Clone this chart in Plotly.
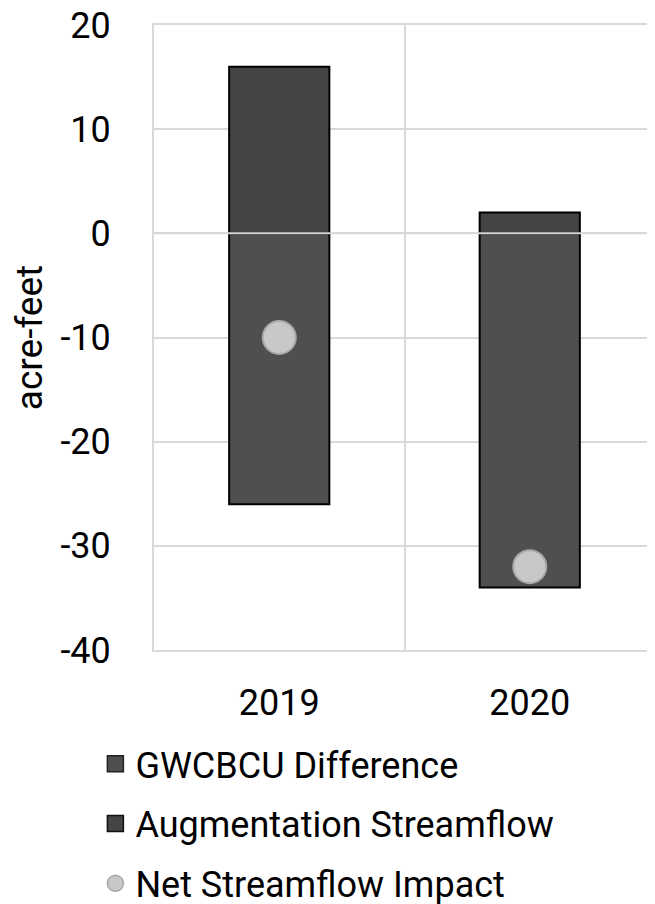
import plotly.graph_objects as go

years = ["2019", "2020"]
gwcbcu_diff = [-26, -34]
aug_streamflow = [16, 2]
net_impact = [-10, -32]

y_ticks = [20, 10, 0, -10, -20, -30, -40]
y_tick_labels = ["20", "10", "0", "-10", "-20", "-30", "-40"]

FONT = "Roboto"
C_GW = "#4f4f4f"
C_AUG = "#444444"
C_NET = "#c8c8c8"
C_NET_LINE = "#a9a9a9"
GRID = "#d9d9d9"

fig = go.Figure()

fig.add_trace(go.Bar(x=years, y=gwcbcu_diff, name="GWCBCU Difference",
                     marker=dict(color=C_GW, line=dict(color="#000000", width=2)),
                     width=0.4, showlegend=False))
fig.add_trace(go.Bar(x=years, y=aug_streamflow, name="Augmentation Streamflow",
                     marker=dict(color=C_AUG, line=dict(color="#000000", width=2)),
                     width=0.4, showlegend=False))
fig.add_trace(go.Scatter(x=years, y=net_impact, mode="markers", name="Net Streamflow Impact",
                         marker=dict(color=C_NET, size=33, line=dict(color=C_NET_LINE, width=2)),
                         showlegend=False))

# legend entries
fig.add_trace(go.Scatter(x=[None], y=[None], mode="markers", name="GWCBCU Difference",
                         legendgroup="a",
                         marker=dict(symbol="square", color=C_GW, size=22,
                                     line=dict(color="#222222", width=1.5))))
fig.add_trace(go.Scatter(x=[None], y=[None], mode="markers", name="Augmentation Streamflow",
                         legendgroup="b",
                         marker=dict(symbol="square", color=C_AUG, size=22,
                                     line=dict(color="#111111", width=1.5))))
fig.add_trace(go.Scatter(x=[None], y=[None], mode="markers", name="Net Streamflow Impact",
                         legendgroup="c",
                         marker=dict(symbol="circle", color=C_NET, size=23,
                                     line=dict(color=C_NET_LINE, width=1.5))))

fig.add_shape(type="line", xref="paper", x0=0, x1=1, yref="y", y0=0, y1=0,
              line=dict(color=GRID, width=2), layer="above")

fig.update_layout(
    width=647, height=896,
    margin=dict(l=146, r=0, t=17, b=254, pad=0, autoexpand=False),
    paper_bgcolor="white", plot_bgcolor="white",
    barmode="relative",
    font=dict(family=FONT, color="#000000"),
    legend=dict(orientation="v", x=-0.117, xanchor="left", y=-0.134, yanchor="top",
                font=dict(size=36, family=FONT), tracegroupgap=10,
                traceorder="grouped", bgcolor="rgba(0,0,0,0)",
                itemsizing="trace"),
    xaxis=dict(type="category", tickson="boundaries", showgrid=True, gridcolor=GRID,
               gridwidth=2, ticks="", showline=True, linecolor=GRID, linewidth=2,
               mirror=True, zeroline=False,
               tickfont=dict(size=36, family=FONT), ticklabelstandoff=20,
               range=[-0.5, 1.5]),
    yaxis=dict(range=[-40, 20], tickvals=y_ticks, ticktext=y_tick_labels,
               showgrid=True, gridcolor=GRID,
               gridwidth=2, zeroline=False, showline=True, linecolor=GRID, linewidth=2,
               mirror=True, ticks="", ticklabeloverflow="allow",
               tickfont=dict(size=36, family=FONT), ticklabelstandoff=34,
               title=dict(text="acre-feet", font=dict(size=37, family=FONT), standoff=18)),
)

fig.write_html("out.html")
